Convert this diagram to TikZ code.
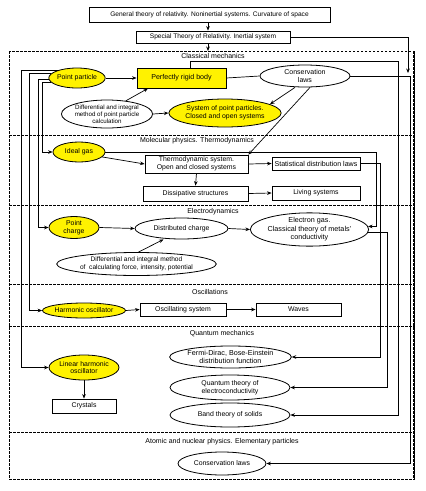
\documentclass[tikz,border=0pt]{standalone}
\usepackage{fontspec}
\setmainfont{Liberation Sans}
\usetikzlibrary{arrows.meta,shapes.geometric}
\newcommand\fsz[2]{\fontsize{#1}{#2}\selectfont}
\begin{document}
\begin{tikzpicture}[x=1pt,y=-1pt,
  arr/.style={-{Stealth[length=4.5pt,width=3.6pt]}, line width=0.7pt},
  ln/.style={line width=0.7pt},
  bx/.style={draw, line width=0.8pt, inner sep=0pt, align=center, font={\fsz{6.9}{7.8}}},
  el/.style={draw, ellipse, line width=0.8pt, inner sep=0pt, align=center, font={\fsz{6.9}{7.8}}},
  yel/.style={el, fill=yellow},
  ybx/.style={bx, fill=yellow},
  sec/.style={font={\fsz{7}{8}}, inner sep=0pt},
  frm/.style={dash pattern=on 2.5pt off 1.5pt, line width=0.7pt}
]
\useasboundingbox (0,0) rectangle (426,491);
\fill[white] (0,0) rectangle (426,491);

% frame and sections
\draw[frm] (9,51) rectangle (414,479);
\draw[frm, line width=1.1pt] (414,51) -- (414,479);
\foreach \yy in {135,205,284,326,432} \draw[frm] (9,\yy) -- (414,\yy);

% top boxes
\node[bx, minimum width=241pt, minimum height=15pt, font={\fsz{6.6}{7.6}}] (gt) at (209.5,14.5) {General theory of relativity. Noninertial systems. Curvature of space};
\node[bx, minimum width=154pt, minimum height=12pt, font={\fsz{6.6}{7.6}}] (sr) at (213,37) {Special Theory of Relativity. Inertial system};

% section labels
\node[sec] (lcm) at (213,56) {Classical mechanics};
\node[sec] (lmp) at (197,141) {Molecular physics. Thermodynamics};
\node[sec] (led) at (213,212) {Electrodynamics};
\node[sec] (los) at (210,292) {Oscillations};
\node[sec] (lqm) at (222,334) {Quantum mechanics};
\node[sec] (lan) at (222,442) {Atomic and nuclear physics. Elementary particles};

% classical mechanics
\node[yel, minimum width=50pt, minimum height=20pt] (pp) at (77,78) {Point particle};
\node[ybx, minimum width=89pt, minimum height=20pt, font={\fsz{7.1}{8.1}}] (rb) at (181.5,78) {Perfectly rigid body};
\node[el, minimum width=90pt, minimum height=22pt, font={\fsz{7}{8}}] (cl) at (305,76) {Conservation\\laws};
\node[el, minimum width=88pt, minimum height=28pt, font={\fsz{6.2}{7}}] (dm1) at (107,114) {Differential and integral\\method of point particle\\calculation};
\node[yel, minimum width=102pt, minimum height=28pt] (spp) at (225,113) {System of point particles.\\Closed and open systems};

% molecular physics
\node[yel, minimum width=52pt, minimum height=20pt] (ig) at (79,152) {Ideal gas};
\node[bx, minimum width=103pt, minimum height=18pt] (td) at (196.5,164) {Thermodynamic system.\\Open and closed systems};
\node[bx, minimum width=88pt, minimum height=13pt, font={\fsz{7.1}{8}}] (st) at (316,163.5) {Statistical distribution laws};
\node[bx, minimum width=105pt, minimum height=15pt] (ds) at (195.5,193.5) {Dissipative structures};
\node[bx, minimum width=88pt, minimum height=14pt] (ls) at (316,193) {Living systems};

% electrodynamics
\node[yel, minimum width=50pt, minimum height=22pt] (pc) at (74,227.5) {Point\\charge};
\node[el, minimum width=93pt, minimum height=21pt] (dc) at (181.5,228.5) {Distributed charge};
\node[el, minimum width=117pt, minimum height=33pt, font={\fsz{7.2}{8.4}}] (eg) at (309.5,229.5) {Electron gas.\\Classical theory of metals'\\conductivity};
\node[el, minimum width=121pt, minimum height=23pt, font={\fsz{6.6}{7.6}}] (dm2) at (136.5,264) {Differential and integral method\\of\ \ calculating force, intensity, potential};

% oscillations
\node[yel, minimum width=62pt, minimum height=15pt] (ho) at (84,310.5) {Harmonic oscillator};
\node[bx, minimum width=86pt, minimum height=13pt] (os) at (183,309.5) {Oscillating system};
\node[bx, minimum width=85pt, minimum height=13pt] (wv) at (298.5,309.5) {Waves};

% quantum mechanics
\node[yel, minimum width=68pt, minimum height=25pt] (lho) at (84,367.5) {Linear harmonic\\oscillator};
\node[bx, minimum width=64pt, minimum height=14pt] (cr) at (84,406) {Crystals};
\node[el, minimum width=121pt, minimum height=22pt, font={\fsz{7.2}{8.2}}] (fd) at (230.5,357) {Fermi-Dirac, Bose-Einstein\\distribution function};
\node[el, minimum width=120pt, minimum height=25pt] (qte) at (230,387.5) {Quantum theory of\\electroconductivity};
\node[el, minimum width=120pt, minimum height=24pt] (bt) at (230,415) {Band theory of solids};

% atomic
\node[el, minimum width=88pt, minimum height=23pt] (acl) at (222,463.5) {Conservation laws};

% bus coordinates
\coordinate (ft) at (208,51);
\coordinate (lb1) at (21,0);
\coordinate (lb2) at (29,0);
\coordinate (lb3) at (38,0);
\coordinate (lb4) at (42,0);
\coordinate (rA) at (376,0);
\coordinate (rB) at (380,0);
\coordinate (rC) at (387,0);
\coordinate (rD) at (398,61);
\coordinate (rE) at (410,0);
\coordinate (rF) at (408,73);

% top connectors
\draw[arr] (gt.south -| ft) -- (sr.north -| ft);
\draw[arr] (sr.south -| ft) -- (ft);
\draw[arr] (sr.east) -| (rF);

% classical
\draw[arr] (pp.east) -- (rb.west);
\draw[ln] (rb.east) -- (cl.west);
\draw[arr] (dm1.35) -- ([xshift=-33.5pt]rb.south);
\draw[arr] (dm1.east) -- (spp.west);
\draw[arr] ([xshift=-10pt]cl.south) -- (spp.11);
\draw[arr] ([xshift=5pt]cl.south) -- (td.north east);

% left buses
\draw[arr] (pp.158) -- (lb1 |- pp.158) |- (lho.west);
\draw[arr] (pp.170) -- (lb2 |- pp.170) |- (ho.west);
\draw[arr] (pp.182) -- (lb3 |- pp.182) |- (pc.west);
\draw[arr] (pp.190) -- (lb4 |- pp.190) |- (ig.west);

% molecular
\draw[arr] (ig.-12) -- (td.west);
\draw[arr] (td.east) -- (st.west);
\draw[arr] (td.south) -- (ds.north);
\draw[arr] (ds.east) -- (ls.west);

% electrodynamics
\draw[arr] (pc.east) -- (dc.west);
\draw[arr] (dc.east) -- (eg.west);
\draw[arr] ([xshift=2pt]dm2.north) -- ([xshift=-18pt]dc.south);

% oscillations
\draw[arr] (ho.east) -- (os.west);
\draw[arr] (os.east) -- (wv.west);
\draw[arr] (lho.south) -- (cr.north);

% right buses
\draw[arr] (ig.east) -- (rA |- ig.east) |- (eg.3);
\draw[arr] (st.east) -- (rB |- st.east) |- (fd.east);
\draw[arr] (eg.-3) -- (rC |- eg.-3) |- (qte.east);
\draw[arr] ([xshift=8.5pt]rb.north) |- (rD) |- (bt.east);
\draw[arr] (cl.east) -- (rE |- cl.east) |- (acl.east);
\end{tikzpicture}
\end{document}
